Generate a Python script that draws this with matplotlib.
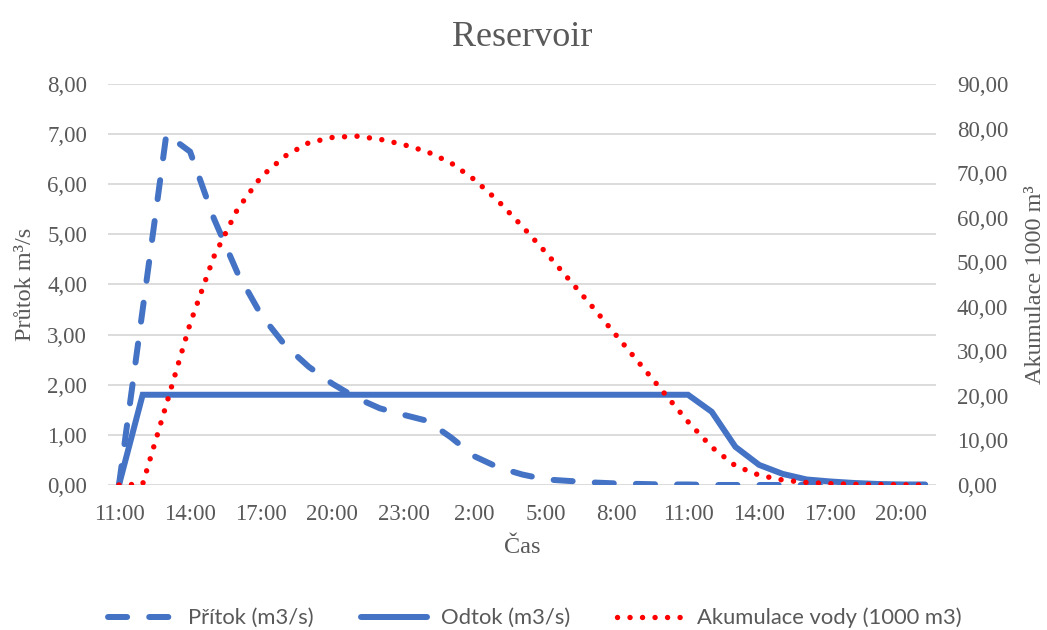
import matplotlib
matplotlib.use('Agg')
import matplotlib.pyplot as plt
from matplotlib.ticker import FuncFormatter

# hourly readings, 11:00 first day to 21:00 third day
times = ['11:00', '12:00', '13:00', '14:00', '15:00', '16:00', '17:00', '18:00',
         '19:00', '20:00', '21:00', '22:00', '23:00', '0:00', '1:00', '2:00',
         '3:00', '4:00', '5:00', '6:00', '7:00', '8:00', '9:00', '10:00',
         '11:00', '12:00', '13:00', '14:00', '15:00', '16:00', '17:00', '18:00',
         '19:00', '20:00', '21:00']

# inflow m3/s
pritok = [0.00, 3.50, 7.00, 6.65, 5.32, 4.23, 3.39, 2.79, 2.36, 2.02, 1.74, 1.53,
          1.40, 1.28, 0.95, 0.57, 0.35, 0.21, 0.11, 0.08, 0.05, 0.03, 0.02, 0.01,
          0.01, 0.00, 0.00, 0.00, 0.00, 0.00, 0.00, 0.00, 0.00, 0.00, 0.00]

# outflow m3/s
odtok = [0.00, 1.80, 1.80, 1.80, 1.80, 1.80, 1.80, 1.80, 1.80, 1.80, 1.80, 1.80,
         1.80, 1.80, 1.80, 1.80, 1.80, 1.80, 1.80, 1.80, 1.80, 1.80, 1.80, 1.80,
         1.80, 1.46, 0.76, 0.40, 0.22, 0.11, 0.07, 0.04, 0.02, 0.01, 0.01]

# stored volume, 1000 m3
akumulace = [0.0, 0.2, 18.1, 36.2, 51.2, 61.9, 69.2, 73.8, 76.8, 78.0, 78.3, 77.6,
             76.4, 74.8, 72.3, 68.5, 63.7, 58.1, 52.2, 46.0, 39.8, 33.4, 27.0, 20.6,
             14.2, 8.5, 4.3, 2.2, 1.1, 0.55, 0.3, 0.15, 0.1, 0.05, 0.0]

left_ticks = [0, 1, 2, 3, 4, 5, 6, 7, 8]
right_ticks = [0, 10, 20, 30, 40, 50, 60, 70, 80, 90]

BLUE = '#4472C4'
RED = '#FF0000'
GREY = '#595959'
SERIF = 'Liberation Serif'

x = list(range(len(times)))

fig = plt.figure(figsize=(10.47, 6.3), dpi=100)
ax = fig.add_axes([0.1032, 0.2302, 0.7908, 0.6365])
ax2 = ax.twinx()

comma = FuncFormatter(lambda v, pos: '{:.2f}'.format(v).replace('.', ','))

ax.plot(x, pritok, color=BLUE, lw=4.3, dashes=(3.2, 3.7),
        dash_capstyle='round', solid_capstyle='round', label='Přítok (m3/s)')
ax.plot(x, odtok, color=BLUE, lw=4.3, solid_capstyle='round',
        solid_joinstyle='miter', label='Odtok (m3/s)')
ax2.plot(x, akumulace, color=RED, lw=3.9, dashes=(0.01, 2.3),
         dash_capstyle='round', label='Akumulace vody (1000 m3)')

ax.set_xlim(-0.46, len(times) - 1 + 0.46)
ax.set_ylim(0, 8)
ax2.set_ylim(0, 90)
ax.set_yticks(left_ticks)
ax2.set_yticks(right_ticks)
ax.yaxis.set_major_formatter(comma)
ax2.yaxis.set_major_formatter(comma)
ax.set_xticks(x[::3])
ax.set_xticklabels(times[::3])

ax.grid(axis='y', color='#D9D9D9', lw=1.3)
ax.set_axisbelow(True)
for a in (ax, ax2):
    for s in a.spines.values():
        s.set_visible(False)
    a.tick_params(length=0, labelsize=16.5, labelcolor=GREY)
    for lab in a.get_xticklabels() + a.get_yticklabels():
        lab.set_fontfamily(SERIF)
ax.tick_params(axis='y', pad=15)
ax.tick_params(axis='x', pad=14)
ax2.tick_params(axis='y', pad=15)

ax.set_title('Reservoir', fontsize=26, color=GREY, family=SERIF, pad=27)
ax.set_xlabel('Čas', fontsize=17.5, color=GREY, family=SERIF)
ax.set_ylabel('Průtok m³/s', fontsize=17.5, color=GREY, family=SERIF)
ax2.set_ylabel('Akumulace 1000 m³', fontsize=17.5, color=GREY, family=SERIF,
               rotation=90)
ax.yaxis.label.set_va('center')
ax2.yaxis.label.set_va('center')
ax.xaxis.set_label_coords(0.5, -0.13)
ax.yaxis.set_label_coords(-0.1, 0.5)
ax2.yaxis.set_label_coords(1.1196, 0.5)

h1, l1 = ax.get_legend_handles_labels()
h2, l2 = ax2.get_legend_handles_labels()
leg = fig.legend(h1 + h2, l1 + l2, loc='center', ncol=3, frameon=False,
                 bbox_to_anchor=(0.511, 1 - 618 / 630), handlelength=3.0,
                 handletextpad=0.65, columnspacing=2.15,
                 prop={'family': 'Lato', 'size': 15.8})
for t in leg.get_texts():
    t.set_color(GREY)

fig.savefig('out.png', dpi=100)
